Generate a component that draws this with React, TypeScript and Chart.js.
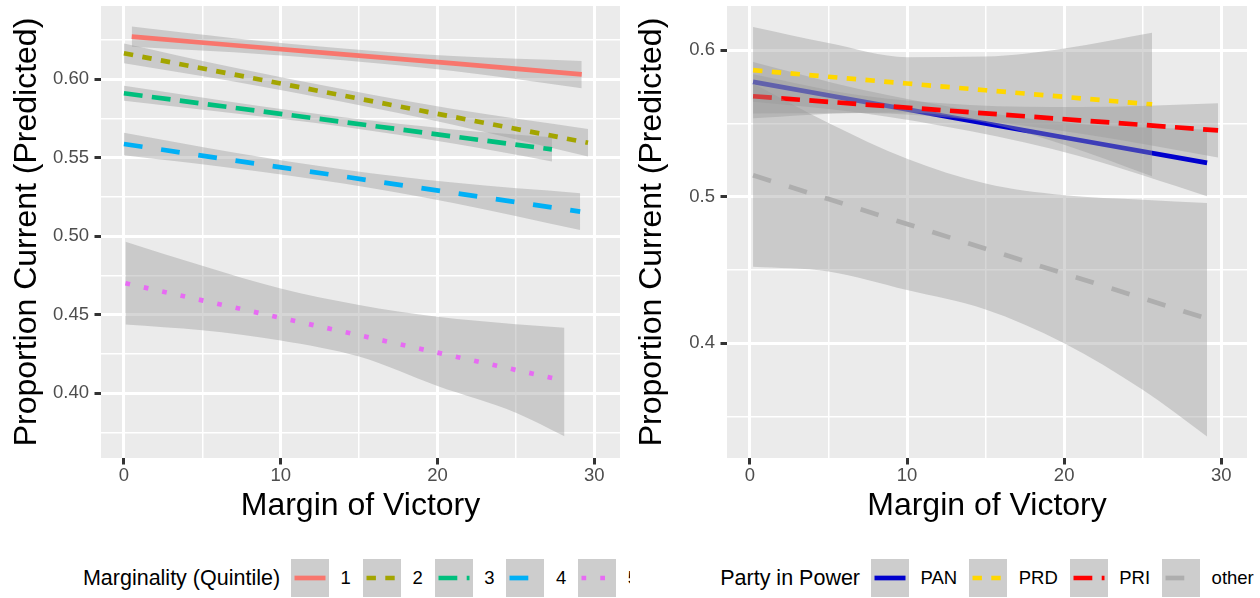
import React, { useEffect, useRef } from "react";
import { Chart, registerables } from "chart.js";

Chart.register(...registerables);

const FONT = "'Liberation Sans', Arial, Helvetica, sans-serif";
const RIBBON = "rgba(153,153,153,0.4)";

// ---------- shared x axis ----------
const xTicksAll = [0, 5, 10, 15, 20, 25, 30];
const xTicksMajor = [0, 10, 20, 30];
const xTickLabels = ["0", "10", "20", "30"];
const xMin = -1.46;
const xMax = 31.64;

// ---------- left panel: Marginality (Quintile) ----------
const leftYTicksAll = [0.375, 0.4, 0.425, 0.45, 0.475, 0.5, 0.525, 0.55, 0.575, 0.6, 0.625];
const leftYTicksMajor = [0.4, 0.45, 0.5, 0.55, 0.6];
const leftYTickLabels = ["0.40", "0.45", "0.50", "0.55", "0.60"];
const leftYMin = 0.3586;
const leftYMax = 0.6465;

const quintileNames = ["1", "2", "3", "4", "5"];

const q1X = [0.5, 7, 14, 21, 29.2];
const q1Fit = [0.627, 0.6215, 0.6157, 0.6099, 0.603];
const q1Lower = [0.6206, 0.617, 0.6119, 0.6051, 0.5941];
const q1Upper = [0.6334, 0.626, 0.6195, 0.6147, 0.6115];

const q2X = [0, 7, 14, 21, 29.6];
const q2Fit = [0.6164, 0.6029, 0.5894, 0.5759, 0.5594];
const q2Lower = [0.6101, 0.5984, 0.5854, 0.5709, 0.5506];
const q2Upper = [0.6227, 0.6074, 0.5934, 0.5809, 0.5682];

const q3X = [0, 7, 14, 21, 27.3];
const q3Fit = [0.5909, 0.5817, 0.5726, 0.5634, 0.5552];
const q3Lower = [0.5861, 0.5782, 0.5696, 0.5589, 0.5475];
const q3Upper = [0.5957, 0.5852, 0.5756, 0.5679, 0.5629];

const q4X = [0, 7, 14, 21, 29.1];
const q4Fit = [0.5586, 0.5482, 0.5379, 0.5275, 0.5155];
const q4Lower = [0.5515, 0.5432, 0.5334, 0.521, 0.5038];
const q4Upper = [0.5657, 0.5532, 0.5424, 0.534, 0.5272];

const q5X = [0.1, 5, 10, 15, 20, 25, 28.1];
const q5Fit = [0.4699, 0.459, 0.4479, 0.4368, 0.4257, 0.4147, 0.4078];
const q5Lower = [0.4437, 0.44, 0.4335, 0.4232, 0.4045, 0.3875, 0.3725];
const q5Upper = [0.4964, 0.481, 0.4665, 0.456, 0.4485, 0.4438, 0.4415];

// ---------- right panel: Party in Power ----------
const rightYTicksAll = [0.35, 0.4, 0.45, 0.5, 0.55, 0.6];
const rightYTicksMajor = [0.4, 0.5, 0.6];
const rightYTickLabels = ["0.4", "0.5", "0.6"];
const rightYMin = 0.3217;
const rightYMax = 0.6302;

const partyNames = ["PAN", "PRD", "PRI", "other"];

const panX = [0.2, 7, 14, 21, 29.1];
const panFit = [0.5784, 0.5654, 0.552, 0.5386, 0.5231];
const panLower = [0.5648, 0.5574, 0.5448, 0.5276, 0.5004];
const panUpper = [0.592, 0.5734, 0.5592, 0.5496, 0.5458];

const prdX = [0.2, 5, 10, 15, 20, 25.6];
const prdFit = [0.5864, 0.5819, 0.5773, 0.5727, 0.5682, 0.563];
const prdLower = [0.5569, 0.557, 0.5575, 0.5505, 0.5355, 0.514];
const prdUpper = [0.6159, 0.6049, 0.5953, 0.5957, 0.6012, 0.612];

const priX = [0.2, 7, 14, 21, 29.8];
const priFit = [0.5686, 0.5632, 0.5577, 0.5522, 0.5453];
const priLower = [0.5536, 0.5572, 0.5527, 0.5432, 0.5268];
const priUpper = [0.5836, 0.5692, 0.5627, 0.5612, 0.5638];

const otherX = [0.2, 5, 10, 15, 20, 25, 29.1];
const otherFit = [0.5147, 0.4984, 0.4814, 0.4645, 0.4476, 0.4307, 0.4168];
const otherLower = [0.4522, 0.449, 0.4363, 0.423, 0.4, 0.3682, 0.3363];
const otherUpper = [0.5773, 0.5504, 0.526, 0.509, 0.501, 0.498, 0.4958];

// ---------- styles ----------
const LW = 4.7;
const quintileColors = ["#F8766D", "#A3A500", "#00BF7D", "#00B0F6", "#E76BF3"];
const quintileDashes = [[], [2 * LW, 2 * LW], [4 * LW, 2 * LW], [4 * LW, 4 * LW], [LW, 3 * LW]];
const partyColors = ["#0000CD", "#FFD700", "#FF0000", "#AEAEAE"];
const partyDashes = [[], [2 * LW, 2 * LW], [4 * LW, 2 * LW], [4 * LW, 4 * LW]];

type Series = { x: number[]; fit: number[]; lower: number[]; upper: number[] };

const leftSeries: Series[] = [
  { x: q1X, fit: q1Fit, lower: q1Lower, upper: q1Upper },
  { x: q2X, fit: q2Fit, lower: q2Lower, upper: q2Upper },
  { x: q3X, fit: q3Fit, lower: q3Lower, upper: q3Upper },
  { x: q4X, fit: q4Fit, lower: q4Lower, upper: q4Upper },
  { x: q5X, fit: q5Fit, lower: q5Lower, upper: q5Upper },
];

const rightSeries: Series[] = [
  { x: panX, fit: panFit, lower: panLower, upper: panUpper },
  { x: prdX, fit: prdFit, lower: prdLower, upper: prdUpper },
  { x: priX, fit: priFit, lower: priLower, upper: priUpper },
  { x: otherX, fit: otherFit, lower: otherLower, upper: otherUpper },
];

const near = (a: number, list: number[]) => list.findIndex((v) => Math.abs(v - a) < 1e-6);

function buildDatasets(series: Series[], colors: string[], dashes: number[][], names: string[]) {
  const datasets: any[] = [];
  const n = series.length * 3;
  let k = 0;
  series.forEach((s, g) => {
    const upperIdx = datasets.length;
    datasets.push({
      label: names[g] + " upper",
      data: s.x.map((x, i) => ({ x, y: s.upper[i] })),
      borderWidth: 0,
      borderColor: "rgba(0,0,0,0)",
      pointRadius: 0,
      fill: false,
      cubicInterpolationMode: "monotone",
      order: n - k++,
    });
    datasets.push({
      label: names[g] + " lower",
      data: s.x.map((x, i) => ({ x, y: s.lower[i] })),
      borderWidth: 0,
      borderColor: "rgba(0,0,0,0)",
      backgroundColor: RIBBON,
      pointRadius: 0,
      fill: upperIdx,
      cubicInterpolationMode: "monotone",
      order: n - k++,
    });
    datasets.push({
      label: names[g],
      data: s.x.map((x, i) => ({ x, y: s.fit[i] })),
      borderColor: colors[g],
      borderWidth: LW,
      borderDash: dashes[g],
      borderCapStyle: "butt",
      borderJoinStyle: "round",
      pointRadius: 0,
      fill: false,
      tension: 0,
      order: n - k++,
    });
  });
  return datasets;
}

const panelBg = {
  id: "panelBg",
  beforeDraw(chart: any) {
    const { ctx, chartArea } = chart;
    ctx.save();
    ctx.fillStyle = "#EBEBEB";
    ctx.fillRect(chartArea.left, chartArea.top, chartArea.right - chartArea.left, chartArea.bottom - chartArea.top);
    ctx.restore();
  },
};

const CANVAS_W = 630;
const CANVAS_H = 545;
const AREA_BOTTOM = 458;

type PanelProps = {
  series: Series[];
  colors: string[];
  dashes: number[][];
  names: string[];
  yTicksAll: number[];
  yTicksMajor: number[];
  yTickLabels: string[];
  yMin: number;
  yMax: number;
  padLeft: number;
  padRight: number;
  yWidth: number;
};

function Panel(p: PanelProps) {
  const ref = useRef<HTMLCanvasElement | null>(null);
  useEffect(() => {
    if (!ref.current) return;
    const chart = new Chart(ref.current, {
      type: "line",
      data: { datasets: buildDatasets(p.series, p.colors, p.dashes, p.names) },
      plugins: [panelBg],
      options: {
        animation: false,
        responsive: false,
        devicePixelRatio: 1,
        layout: { padding: { left: p.padLeft, right: p.padRight, top: 6, bottom: 0 } },
        plugins: { legend: { display: false }, tooltip: { enabled: false }, filler: { drawTime: "beforeDatasetDraw" } },
        scales: {
          x: {
            type: "linear",
            min: xMin,
            max: xMax,
            afterBuildTicks: (scale: any) => {
              scale.ticks = xTicksAll.map((v) => ({ value: v }));
            },
            afterFit: (scale: any) => {
              scale.height = CANVAS_H - AREA_BOTTOM;
              scale.paddingLeft = 0;
              scale.paddingRight = 0;
              scale.paddingTop = 0;
              scale.paddingBottom = 0;
            },
            border: { display: false },
            grid: {
              color: "#FFFFFF",
              lineWidth: (c: any) => (near(c.tick.value, xTicksMajor) >= 0 ? 3 : 1.5),
              drawTicks: true,
              tickLength: 6.5,
              tickWidth: 3,
              tickColor: (c: any) => (near(c.tick.value, xTicksMajor) >= 0 ? "#333333" : "rgba(0,0,0,0)"),
            },
            ticks: {
              autoSkip: false,
              maxRotation: 0,
              padding: 0,
              color: "#4D4D4D",
              font: { family: FONT, size: 18.5 },
              callback: (v: any) => {
                const i = near(Number(v), xTicksMajor);
                return i >= 0 ? xTickLabels[i] : "";
              },
            },
            title: {
              display: true,
              text: "Margin of Victory",
              color: "#000000",
              font: { family: FONT, size: 32 },
              padding: { top: 0, bottom: 20 },
            },
          },
          y: {
            type: "linear",
            min: p.yMin,
            max: p.yMax,
            afterBuildTicks: (scale: any) => {
              scale.ticks = p.yTicksAll.map((v) => ({ value: v }));
            },
            afterFit: (scale: any) => {
              scale.width = p.yWidth;
              scale.paddingLeft = 0;
              scale.paddingRight = 0;
              scale.paddingTop = 0;
              scale.paddingBottom = 0;
            },
            border: { display: false },
            grid: {
              color: "#FFFFFF",
              lineWidth: (c: any) => (near(c.tick.value, p.yTicksMajor) >= 0 ? 3 : 1.5),
              drawTicks: true,
              tickLength: 6.5,
              tickWidth: 3,
              tickColor: (c: any) => (near(c.tick.value, p.yTicksMajor) >= 0 ? "#333333" : "rgba(0,0,0,0)"),
            },
            ticks: {
              autoSkip: false,
              padding: 5.5,
              color: "#4D4D4D",
              font: { family: FONT, size: 18.5 },
              callback: (v: any) => {
                const i = near(Number(v), p.yTicksMajor);
                return i >= 0 ? p.yTickLabels[i] : "";
              },
            },
            title: {
              display: true,
              text: "Proportion Current (Predicted)",
              color: "#000000",
              font: { family: FONT, size: 32 },
              padding: { top: 3, bottom: 0 },
            },
          },
        },
      } as any,
    });
    return () => chart.destroy();
  }, []);
  return (
    <canvas
      ref={ref}
      width={CANVAS_W}
      height={CANVAS_H}
      style={{ position: "absolute", left: 0, top: 0, width: CANVAS_W, height: CANVAS_H, display: "block" }}
    />
  );
}

function LegendKey({ color, dash }: { color: string; dash: number[] }) {
  return (
    <svg width={38} height={38} style={{ display: "block", flex: "0 0 auto" }}>
      <rect x={0} y={0} width={38} height={38} fill="#CDCDCD" />
      <line
        x1={3.5}
        y1={19}
        x2={34.5}
        y2={19}
        stroke={color}
        strokeWidth={LW}
        strokeDasharray={dash.length ? dash.join(" ") : undefined}
        strokeLinecap="butt"
      />
    </svg>
  );
}

function Legend({ title, names, colors, dashes, center }: { title: string; names: string[]; colors: string[]; dashes: number[][]; center: number }) {
  return (
    <div
      style={{
        position: "absolute",
        left: 0,
        top: 559,
        width: center * 2,
        height: 38,
        display: "flex",
        justifyContent: "center",
        alignItems: "center",
        whiteSpace: "nowrap",
        fontFamily: FONT,
        color: "#000000",
      }}
    >
      <span style={{ fontSize: 21.5, marginRight: 11 }}>{title}</span>
      {names.map((nm, i) => (
        <React.Fragment key={nm}>
          <LegendKey color={colors[i]} dash={dashes[i]} />
          <span style={{ fontSize: 18.5, marginLeft: 11.5, marginRight: i < names.length - 1 ? 12 : 0 }}>{nm}</span>
        </React.Fragment>
      ))}
    </div>
  );
}

export default function App() {
  return (
    <div style={{ position: "absolute", left: 0, top: 0, width: 1260, height: 598, background: "#FFFFFF", overflow: "hidden" }}>
      <div style={{ position: "absolute", left: 0, top: 0, width: 630, height: 598, overflow: "hidden" }}>
        <Panel
          series={leftSeries}
          colors={quintileColors}
          dashes={quintileDashes}
          names={quintileNames}
          yTicksAll={leftYTicksAll}
          yTicksMajor={leftYTicksMajor}
          yTickLabels={leftYTickLabels}
          yMin={leftYMin}
          yMax={leftYMax}
          padLeft={5}
          padRight={10}
          yWidth={96}
        />
        <Legend title="Marginality (Quintile)" names={quintileNames} colors={quintileColors} dashes={quintileDashes} center={360.5} />
      </div>
      <div style={{ position: "absolute", left: 630, top: 0, width: 630, height: 598, overflow: "hidden" }}>
        <Panel
          series={rightSeries}
          colors={partyColors}
          dashes={partyDashes}
          names={partyNames}
          yTicksAll={rightYTicksAll}
          yTicksMajor={rightYTicksMajor}
          yTickLabels={rightYTickLabels}
          yMin={rightYMin}
          yMax={rightYMax}
          padLeft={0}
          padRight={13}
          yWidth={97}
        />
        <Legend title="Party in Power" names={partyNames} colors={partyColors} dashes={partyDashes} center={357} />
      </div>
    </div>
  );
}
